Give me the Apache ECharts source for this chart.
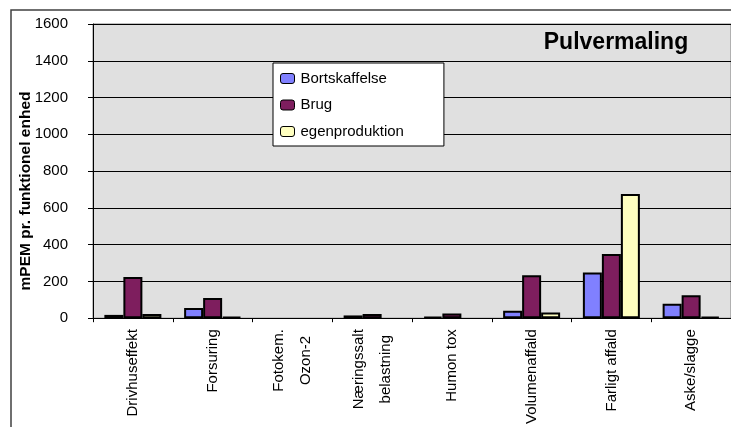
<!DOCTYPE html>
<html>
<head>
<meta charset="utf-8">
<script src="https://cdn.jsdelivr.net/npm/echarts@6/dist/echarts.min.js"></script>
<style>
  html, body { margin: 0; padding: 0; background: #ffffff; }
  #chart { width: 731px; height: 427px; }
</style>
</head>
<body>
<div id="chart"></div>
<script>
// Impact categories and values (mPEM per functional unit)
const categories = ['Drivhuseffekt', 'Forsuring', 'Fotokem.\nOzon-2', 'Næringssalt\nbelastning', 'Humon tox', 'Volumenaffald', 'Farligt affald', 'Aske/slagge'];
const bortskaffelse = [18, 56, 0, 15, 8, 40, 248, 78];
const brug = [224, 110, 0, 23, 25, 233, 349, 125];
const egenproduktion = [23, 7, 0, 0, 0, 31, 676, 8];
const yTicks = { min: 0, max: 1600, interval: 200 };

const FONT = '"Liberation Sans", Arial, sans-serif';

const chart = echarts.init(document.getElementById('chart'), null, { renderer: 'canvas' });

function barSeries(name, values, color) {
  return {
    name: name,
    type: 'bar',
    // a zero value draws no outline at the baseline
    data: values.map(v => v === 0 ? { value: 0, itemStyle: { borderWidth: 0 } } : v),
    barWidth: 19,
    barGap: '0%',
    itemStyle: { color: color, borderColor: '#000000', borderWidth: 2 },
    emphasis: { disabled: true }
  };
}

chart.setOption({
  animation: false,
  backgroundColor: '#ffffff',
  textStyle: { fontFamily: FONT },
  grid: {
    left: 93, top: 24, width: 645, height: 295,
    show: true, backgroundColor: '#e0e0e0', borderColor: '#808080', borderWidth: 1
  },
  graphic: [
    {
      type: 'rect', z: -10,
      shape: { x: 11, y: 10, width: 760, height: 460 },
      style: { fill: 'none', stroke: '#404040', lineWidth: 1.5 }
    },
    {
      type: 'text', x: 26, y: 191, rotation: Math.PI / 2,
      style: {
        text: 'mPEM pr. funktionel enhed', fontFamily: FONT, fontSize: 15.5, fontWeight: 'bold',
        fill: '#000000', align: 'center', verticalAlign: 'middle'
      }
    },
    {
      type: 'text', x: 616, y: 43,
      style: {
        text: 'Pulvermaling', fontFamily: FONT, fontSize: 23, fontWeight: 'bold',
        fill: '#000000', align: 'center', verticalAlign: 'middle'
      }
    }
  ],
  legend: {
    orient: 'vertical', left: 273, top: 63,
    padding: [8, 40, 7, 7], itemGap: 11.5,
    itemWidth: 14, itemHeight: 10,
    backgroundColor: '#ffffff', borderColor: '#000000', borderWidth: 1,
    itemStyle: { borderWidth: 1, borderColor: '#000000' },
    textStyle: { fontFamily: FONT, fontSize: 15, color: '#000000', padding: [0, 0, 0, 1] },
    data: ['Bortskaffelse', 'Brug', 'egenproduktion']
  },
  xAxis: {
    type: 'category',
    data: categories,
    axisLine: { lineStyle: { color: '#000000', width: 1 } },
    axisTick: { show: true, length: 4, lineStyle: { color: '#000000' } },
    axisLabel: {
      rotate: 90, margin: 11, interval: 0,
      fontFamily: FONT, fontSize: 15, color: '#000000', lineHeight: 27,
      formatter: v => v.split('\n').map(s => '{c|' + s + '}').join('\n'),
      rich: { c: { align: 'center', fontFamily: FONT, fontSize: 15, lineHeight: 27, color: '#000000' } }
    }
  },
  yAxis: {
    type: 'value',
    min: yTicks.min, max: yTicks.max, interval: yTicks.interval,
    axisLine: { show: true, lineStyle: { color: '#000000', width: 1 } },
    axisTick: { show: true, length: 5, lineStyle: { color: '#000000' } },
    axisLabel: { margin: 25, fontFamily: FONT, fontSize: 15, color: '#000000', formatter: v => String(v) },
    splitLine: { show: true, lineStyle: { color: '#000000', width: 1 } }
  },
  series: [
    barSeries('Bortskaffelse', bortskaffelse, '#8080ff'),
    barSeries('Brug', brug, '#7e1e5e'),
    barSeries('egenproduktion', egenproduktion, '#ffffc0')
  ]
});
</script>
</body>
</html>
